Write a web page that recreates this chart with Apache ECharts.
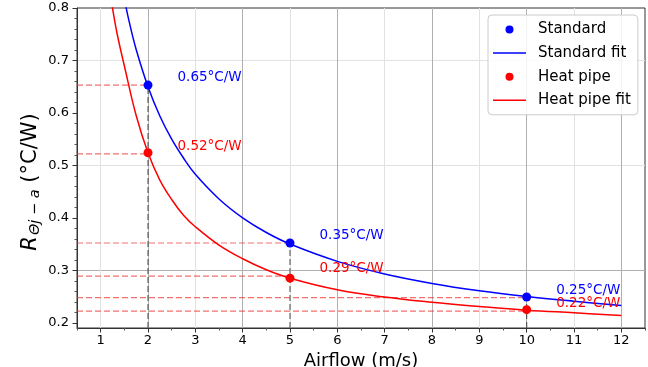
<!DOCTYPE html>
<html><head><meta charset="utf-8">
<script src="https://cdn.jsdelivr.net/npm/echarts@6/dist/echarts.min.js"></script>
<style>html,body{margin:0;padding:0;background:#fff}#c{width:648px;height:367px}</style>
</head><body><div id="c"></div><script>
// ---- data ----
const xTicks = [1, 2, 3, 4, 5, 6, 7, 8, 9, 10, 11, 12];
const xMinorTicks = [0.5, 1.5, 2.5, 3.5, 4.5, 5.5, 6.5, 7.5, 8.5, 9.5, 10.5, 11.5, 12.5];
const yTicks = [0.2, 0.3, 0.4, 0.5, 0.6, 0.7, 0.8];
const yMinorTicks = [0.22, 0.24, 0.26, 0.28, 0.32, 0.34, 0.36, 0.38, 0.42, 0.44, 0.46, 0.48, 0.52, 0.54, 0.56, 0.58, 0.62, 0.64, 0.66, 0.68, 0.72, 0.74, 0.76, 0.78];
const measuredX = [2, 5, 10];
const standardValues = [0.653, 0.352, 0.249];
const heatPipeValues = [0.524, 0.285, 0.225];
const guideStandard = [0.653, 0.352, 0.248];
const guideHeatPipe = [0.522, 0.289, 0.222];
const labelStandard = ['0.65°C/W', '0.35°C/W', '0.25°C/W'];
const labelHeatPipe = ['0.52°C/W', '0.29°C/W', '0.22°C/W'];
const fitXStandard = [1.45, 1.5, 1.6, 1.75, 2, 2.25, 2.5, 2.75, 3, 3.5, 4, 4.5, 5, 6, 7, 8, 9, 10, 11, 12];
const fitStandard = [0.840, 0.817, 0.775, 0.721, 0.650, 0.594, 0.550, 0.514, 0.483, 0.436, 0.400, 0.372, 0.350, 0.317, 0.293, 0.275, 0.261, 0.250, 0.241, 0.233];
const fitXHeatPipe = [1.2, 1.25, 1.35, 1.5, 1.75, 2, 2.25, 2.5, 2.75, 3, 3.5, 4, 4.5, 5, 6, 7, 8, 9, 10, 11, 12];
const fitHeatPipe = [0.830, 0.800, 0.750, 0.690, 0.595, 0.524, 0.472, 0.435, 0.405, 0.383, 0.348, 0.322, 0.301, 0.285, 0.263, 0.249, 0.239, 0.231, 0.224, 0.219, 0.214];

// ---- styling ----
const F = 'DejaVu Sans';
const MAJ = '#b0b0b0', MIN = '#e2e2e2', T = 'rgba(0,0,0,0)';
const BLUE = '#0000ff', RED = '#ff0000';
const RED_GUIDE = 'rgba(240,50,50,0.7)', GRAY_GUIDE = 'rgba(50,50,50,0.75)';
const xMin = 0.5, xMax = 12.5, yMin = 0.19, yMax = 0.8;
const zip = (a, b) => a.map((v, i) => [v, b[i]]);
const LINE_ICON = 'path://M0,0 L44,0 L44,2 L0,2 Z';

function guide(p1, p2, color) {
  return {
    type: 'line', data: [p1, p2], symbol: 'none', silent: true, z: 2,
    lineStyle: {color: color, width: 1.2, type: [6, 3]}, itemStyle: {color: color}
  };
}
const guideSeries = [];
measuredX.forEach((x, i) => {
  guideSeries.push(guide([xMin, guideStandard[i]], [x, guideStandard[i]], RED_GUIDE));
  guideSeries.push(guide([xMin, guideHeatPipe[i]], [x, guideHeatPipe[i]], RED_GUIDE));
  guideSeries.push(guide([x, yMin], [x, guideStandard[i]], GRAY_GUIDE));
});

function labelSeries(vals, texts, color) {
  return {
    type: 'scatter', silent: true, z: 6, symbolSize: 1,
    itemStyle: {color: T, opacity: 1},
    data: vals.map((v, i) => ({value: [measuredX[i], v], label: {formatter: texts[i]}})),
    label: {show: true, position: [30, -6.8], align: 'left', verticalAlign: 'middle',
      color: color, opacity: 1, fontFamily: F, fontSize: 13.5}
  };
}

const hidden = {axisLine: {show: false}, axisLabel: {show: false}, splitLine: {show: false}};

const chart = echarts.init(document.getElementById('c'), null, {renderer: 'canvas', width: 648, height: 367});
chart.setOption({
  animation: false,
  backgroundColor: '#fff',
  grid: {left: 77, right: 3, top: 8, bottom: 39, show: true, borderColor: '#333', borderWidth: 1,
    containLabel: false, outerBoundsMode: 'none'},
  legend: {
    data: [
      {name: 'Standard', icon: 'circle'},
      {name: 'Standard fit', icon: LINE_ICON},
      {name: 'Heat pipe', icon: 'circle'},
      {name: 'Heat pipe fit', icon: LINE_ICON}
    ],
    orient: 'vertical', left: 488, top: 15,
    itemWidth: 33, itemHeight: 8, itemGap: 8.6,
    padding: [7, 7, 7, 5],
    borderColor: '#cccccc', borderWidth: 1, borderRadius: 4,
    backgroundColor: 'rgba(255,255,255,0.85)',
    textStyle: {fontFamily: F, fontSize: 15, color: '#000', padding: [0, 0, 0, 7]},
    selectedMode: false
  },
  graphic: [{
    type: 'text', x: 31, y: 182, rotation: Math.PI / 2, silent: true,
    style: {
      text: '{r|R}{s|Θj − a}{n| (°C/W)}',
      align: 'center', verticalAlign: 'middle', fill: '#000',
      rich: {
        r: {fontFamily: F, fontSize: 21, fontStyle: 'italic', fill: '#000'},
        s: {fontFamily: F, fontSize: 14.5, fontStyle: 'italic', fill: '#000', padding: [9, 0, 0, 1]},
        n: {fontFamily: F, fontSize: 21, fill: '#000'}
      }
    }
  }],
  xAxis: [{
    type: 'value', min: xMin, max: xMax, interval: 0.5,
    axisLine: {show: true, onZero: false, lineStyle: {color: '#333', width: 1}},
    axisTick: {show: true, customValues: xTicks, length: 4.5, lineStyle: {color: '#333'}},
    axisLabel: {customValues: xTicks, margin: 6, fontFamily: F, fontSize: 13, color: '#000', formatter: v => String(v)},
    splitLine: {show: true, lineStyle: {color: [MIN, MAJ], width: 1}},
    name: 'Airflow (m/s)', nameLocation: 'middle', nameGap: 20,
    nameTextStyle: {fontFamily: F, fontSize: 18, color: '#000'}
  }, Object.assign({
    type: 'value', min: xMin, max: xMax, interval: 0.5, position: 'bottom', offset: 0,
    axisTick: {show: true, customValues: xMinorTicks, length: 2.5, lineStyle: {color: '#555'}}
  }, hidden)],
  yAxis: [{
    type: 'value', min: yMin, max: yMax, interval: 0.01,
    axisLine: {show: true, onZero: false, lineStyle: {color: '#333', width: 1}},
    axisTick: {show: true, customValues: yTicks, length: 4.5, lineStyle: {color: '#333'}},
    axisLabel: {customValues: yTicks, margin: 8, fontFamily: F, fontSize: 13, color: '#000', formatter: v => v.toFixed(1)},
    splitLine: {show: true, lineStyle: {color: [T, MAJ, T, MIN, T, MIN, T, MIN, T, MIN], width: 1}}
  }, Object.assign({
    type: 'value', min: yMin, max: yMax, interval: 0.01, position: 'left', offset: 0,
    axisTick: {show: true, customValues: yMinorTicks, length: 2.5, lineStyle: {color: '#555'}}
  }, hidden)],
  series: guideSeries.concat([
    {
      name: 'Standard fit', type: 'line', data: zip(fitXStandard, fitStandard), symbol: 'none',
      smooth: 0.4, z: 3, color: BLUE, lineStyle: {color: BLUE, width: 1.5}
    },
    {
      name: 'Heat pipe fit', type: 'line', data: zip(fitXHeatPipe, fitHeatPipe), symbol: 'none',
      smooth: 0.4, z: 3, color: RED, lineStyle: {color: RED, width: 1.5}
    },
    {name: 'Standard', type: 'scatter', data: zip(measuredX, standardValues), symbolSize: 9, z: 5, color: BLUE, itemStyle: {color: BLUE, opacity: 1}},
    {name: 'Heat pipe', type: 'scatter', data: zip(measuredX, heatPipeValues), symbolSize: 9, z: 5, color: RED, itemStyle: {color: RED, opacity: 1}},
    labelSeries(guideStandard, labelStandard, BLUE),
    labelSeries(guideHeatPipe, labelHeatPipe, RED)
  ])
});
</script></body></html>
